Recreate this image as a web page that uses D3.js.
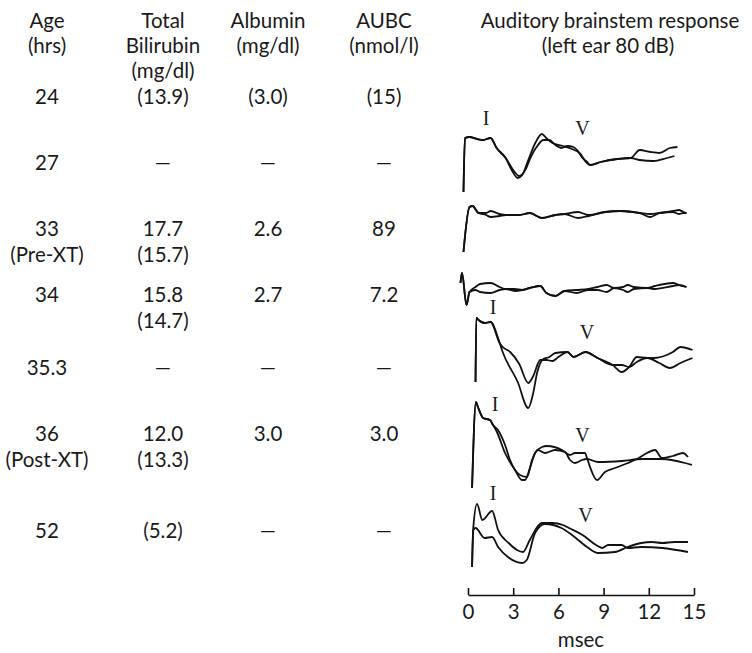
<!DOCTYPE html>
<html>
<head>
<meta charset="utf-8">
<script src="https://cdn.jsdelivr.net/npm/d3@7"></script>
<style>
  body { margin: 0; background: #fff; }
  svg text { font-family: Lato, "Open Sans", sans-serif; fill: #1a1a1a; }
</style>
</head>
<body>
<svg id="chart"></svg>
<script>
// ---- table data ----
const headers = [["Age", "(hrs)"], ["Total", "Bilirubin", "(mg/dl)"], ["Albumin", "(mg/dl)"], ["AUBC", "(nmol/l)"]];
const ages = ["24", "27", "33", "34", "35.3", "36", "52"];
const ageNotes = ["", "", "(Pre-XT)", "", "", "(Post-XT)", ""];
const bilirubin = ["(13.9)", "—", "17.7", "15.8", "—", "12.0", "(5.2)"];
const bilirubinNotes = ["", "", "(15.7)", "(14.7)", "", "(13.3)", ""];
const albumin = ["(3.0)", "—", "2.6", "2.7", "—", "3.0", "—"];
const aubc = ["(15)", "—", "89", "7.2", "—", "3.0", "—"];

// ---- ABR traces: [msec, amplitude] , two superimposed runs per recording ----
const abr24a = [[-0.3,-34],[-0.2,20],[0.1,21],[0.6,19],[1.0,18],[1.5,20],[1.9,10],[2.5,0],[2.9,-12],[3.3,-20],[3.6,-17],[4.0,-2],[4.5,16],[4.9,24],[5.2,20],[5.6,15],[6.3,12],[6.9,9],[7.4,5],[7.9,-5],[8.1,-7],[8.8,-4],[9.9,-1],[10.8,0],[11.4,8],[12.1,6],[12.7,5],[13.4,10],[13.9,11]];
const abr24b = [[-0.3,-34],[-0.2,20],[0.1,21],[0.6,19],[1.0,18],[1.5,20],[1.9,10],[2.5,0],[3.0,-12],[3.4,-18],[3.8,-12],[4.2,2],[4.6,12],[5.0,18],[5.4,18],[5.8,13],[6.2,10],[6.6,12],[7.0,11],[7.3,7],[7.6,0],[7.9,-4],[8.1,-7],[8.8,-4],[9.9,-1],[10.8,0],[11.4,-2],[12.3,-3],[13.2,0],[13.7,2]];
const abr33a = [[-0.3,-39],[0.1,6],[0.3,7],[0.7,0],[1.2,0],[1.5,2],[2.1,-1],[2.5,-2],[3.4,-2],[4.1,0],[4.9,-5],[5.8,-2],[6.4,-1],[7.3,1],[8.0,-2],[9.1,1],[10.1,2],[11.4,0],[12.1,-1],[12.7,0],[13.6,2],[14.0,3],[14.3,1],[14.5,0]];
const abr33b = [[-0.3,-39],[0.1,6],[0.3,7],[0.7,0],[1.2,-2],[1.5,-4],[2.1,-3],[2.5,-2],[3.4,-2],[4.1,0],[4.9,-5],[5.8,-2],[6.4,-1],[7.3,-5],[8.0,-3],[9.1,1],[10.1,2],[11.4,0],[12.1,-4],[12.7,0],[13.6,1],[14.0,-1],[14.3,0],[14.5,0]];
const abr34a = [[-0.5,6],[-0.4,16],[-0.1,-16],[0.1,-3],[0.5,2],[0.8,5],[1.5,6],[2.1,2],[2.5,0],[3.1,0],[3.6,-1],[4.1,1],[4.8,3],[5.2,-4],[5.8,-7],[6.4,-2],[7.2,-1],[8.0,0],[8.6,2],[9.2,4],[9.7,1],[10.3,2],[10.6,4],[11.0,2],[11.9,1],[12.4,3],[13.6,6],[14.0,4],[14.5,2]];
const abr34b = [[-0.5,6],[-0.4,16],[-0.1,-16],[0.1,-3],[0.5,-1],[0.8,-3],[1.5,-4],[2.1,-1],[2.5,0],[3.1,-2],[3.6,-1],[4.1,1],[4.8,3],[5.2,-4],[5.8,-7],[6.4,-2],[7.2,-4],[8.0,-1],[8.6,-1],[9.2,-3],[9.7,1],[10.3,-1],[10.6,-3],[11.0,0],[11.9,1],[12.4,0],[13.6,3],[14.0,4],[14.5,2]];
const abr353a = [[0.5,-25],[0.55,39],[0.7,37],[1.1,34],[1.5,35],[2.1,14],[2.3,5],[3.3,-25],[4.0,-51],[4.3,-38],[4.6,-15],[5.0,-2],[5.4,0],[5.8,4],[6.6,5],[7.0,0],[7.8,5],[8.6,-1],[9.6,-8],[10.2,-15],[10.7,-10],[11.2,0],[11.9,-1],[12.3,-1],[13.6,5],[14.1,10],[14.9,7]];
const abr353b = [[0.5,-25],[0.55,39],[0.7,37],[1.1,34],[1.5,35],[2.1,14],[2.3,10],[2.8,5],[3.4,-7],[4.0,-26],[4.3,-20],[4.8,-3],[5.2,-3],[5.6,-4],[6.0,0],[6.6,5],[7.0,0],[7.8,5],[8.6,-1],[9.6,-8],[10.2,-8],[10.7,-10],[11.2,-5],[11.9,-1],[12.7,-6],[13.4,-11],[14.1,-6],[14.9,-1]];
const abr36a = [[0.27,-28],[0.53,58],[0.66,53],[1.0,42],[1.46,40],[1.66,35],[1.92,28],[2.46,7],[3.12,-10],[3.58,-20],[3.78,-20],[4.11,-8],[4.45,7],[4.91,13],[5.24,14],[6.24,10],[6.77,5],[7.1,7],[7.76,7],[7.9,2],[8.1,-7],[8.56,-20],[9.09,-12],[9.75,-8],[10.62,-3],[11.21,1],[11.88,7],[12.41,10],[12.87,2],[13.6,4],[14.27,7],[14.6,3]];
const abr36b = [[0.27,-28],[0.53,58],[0.66,53],[1.0,42],[1.46,40],[1.66,35],[1.99,30],[2.46,15],[2.79,0],[3.45,-15],[3.92,-17],[4.25,0],[4.64,10],[5.11,7],[5.77,10],[6.44,8],[6.77,0],[7.1,-3],[7.56,0],[7.9,1],[8.63,-2],[10.22,-1],[11.55,1],[12.87,1],[14.4,-3],[14.86,-5]];
const abr52a = [[0.27,-19],[0.35,20],[0.6,44],[0.95,28],[1.6,37],[2.0,18],[2.7,5],[3.25,-2],[3.65,-4],[4.1,8],[4.9,25],[5.6,25],[6.3,23],[6.7,20],[7.6,13],[8.5,3],[8.9,0],[9.3,3],[10.2,3],[10.6,0],[11.5,1],[12.9,0],[14.6,-4]];
const abr52b = [[0.27,-19],[0.35,18],[0.5,20],[1.1,10],[1.6,11],[2.0,1],[2.65,-9],[3.6,-15],[3.9,-12],[4.45,15],[5.1,24],[6.2,20],[6.9,13],[7.9,1],[8.6,-5],[9.75,-4],[10.6,1],[11.5,5],[12.2,6],[12.9,5],[13.7,6],[14.6,6]];

// wave I / wave V labels per recording: [msec, amplitude] (null = not marked)
const waveI = [[1.2, 40], null, null, [1.66, 50], [1.8, 56], [1.66, 55]];
const waveV = [[7.6, 30], null, null, [7.9, 25], [7.6, 25], [7.8, 33]];
const msecTicks = [0, 3, 6, 9, 12, 15];

const abrRuns = [[abr24a, abr24b], [abr33a, abr33b], [abr34a, abr34b], [abr353a, abr353b], [abr36a, abr36b], [abr52a, abr52b]];

// ---- layout ----
const W = 752, H = 653;
const FS = 20.5;
const colX = [47, 163, 268, 384];
const headerY = [20, 45, 70];
const rowY = [96, 162, 228, 294, 367, 433, 530];
const noteGap = 26;
const traceBase = [158, 213, 289, 357, 460, 548];
const axisY = 595;

const svg = d3.select("#chart").attr("width", W).attr("height", H);

function label(xp, yp, txt) {
  return svg.append("text").attr("x", xp).attr("y", yp)
    .attr("text-anchor", "middle").attr("dominant-baseline", "central")
    .attr("font-size", FS).text(txt);
}

// headers
headers.forEach((lines, c) => lines.forEach((t, i) => label(colX[c], headerY[i], t)));
label(610, headerY[0], "Auditory brainstem response");
label(608, headerY[1], "(left ear 80 dB)");

// table body
const columns = [[ages, ageNotes], [bilirubin, bilirubinNotes], [albumin, null], [aubc, null]];
columns.forEach(([vals, notes], c) => {
  vals.forEach((v, r) => {
    label(colX[c], rowY[r], v);
    if (notes && notes[r]) label(colX[c], rowY[r] + noteGap, notes[r]);
  });
});

// scales
const x = d3.scaleLinear().domain([0, 15]).range([468, 694]);
const amp = d3.scaleLinear().domain([-60, 60]).range([60, -60]);
const line = d3.line().x(d => x(d[0])).y(d => amp(d[1])).curve(d3.curveMonotoneX);

abrRuns.forEach((runs, r) => {
  const g = svg.append("g").attr("transform", `translate(0,${traceBase[r]})`);
  g.selectAll("path").data(runs).enter().append("path")
    .attr("d", line)
    .attr("fill", "none").attr("stroke", "#111")
    .attr("stroke-width", 1.8).attr("stroke-linejoin", "round");

  [[waveI[r], "I"], [waveV[r], "V"]].forEach(([p, lbl]) => {
    if (!p) return;
    g.append("text").attr("x", x(p[0])).attr("y", amp(p[1]))
      .attr("text-anchor", "middle").attr("dominant-baseline", "central")
      .style("font-family", "'Liberation Serif', 'DejaVu Serif', serif")
      .attr("font-size", 20).text(lbl);
  });
});

// msec axis, ticks pointing up
const axis = svg.append("g").attr("transform", `translate(0,${axisY})`)
  .call(d3.axisBottom(x).tickValues(msecTicks).tickSizeInner(-7).tickSizeOuter(0).tickPadding(9));
axis.select(".domain").attr("stroke", "#111").attr("stroke-width", 1.6);
axis.selectAll(".tick line").attr("stroke", "#111").attr("stroke-width", 1.6);
axis.selectAll(".tick text").attr("font-size", FS).style("font-family", "Lato, 'Open Sans', sans-serif").attr("fill", "#1a1a1a");

svg.append("text").attr("x", x(7.5)).attr("y", 639)
  .attr("text-anchor", "middle").attr("dominant-baseline", "central")
  .attr("font-size", FS).text("msec");
</script>
</body>
</html>
